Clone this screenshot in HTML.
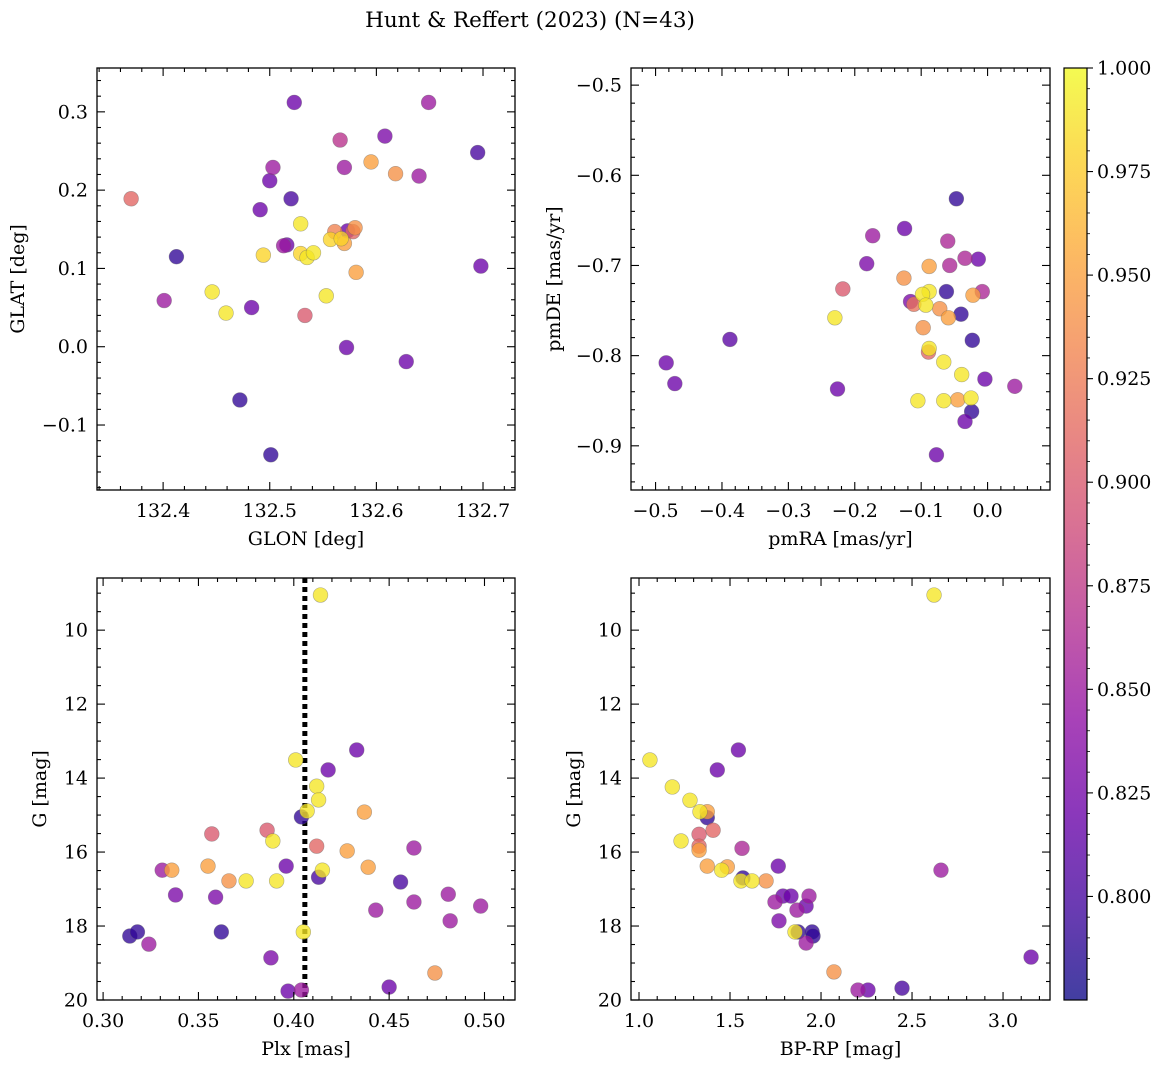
<!DOCTYPE html>
<html><head><meta charset="utf-8"><style>
html,body{margin:0;padding:0;background:#fff;}
svg{display:block;font-family:"DejaVu Serif","Liberation Serif",serif;}
</style></head><body>
<svg id="fig" width="1161" height="1067" viewBox="0 0 1161 1067" xmlns="http://www.w3.org/2000/svg">
<defs><linearGradient id="cbg" x1="0" y1="1" x2="0" y2="0">
<stop offset="0" stop-color="#0d0887"/><stop offset="0.1" stop-color="#41049d"/><stop offset="0.2" stop-color="#6a00a8"/><stop offset="0.3" stop-color="#8f0da4"/><stop offset="0.4" stop-color="#b12a90"/><stop offset="0.5" stop-color="#cc4778"/><stop offset="0.6" stop-color="#e16462"/><stop offset="0.7" stop-color="#f2844b"/><stop offset="0.8" stop-color="#fca636"/><stop offset="0.9" stop-color="#fcce25"/><stop offset="1" stop-color="#f0f921"/></linearGradient></defs>
<text x="530" y="27" font-size="21.5" text-anchor="middle">Hunt &amp; Reffert (2023) (N=43)</text>
</svg>
<script>
// Panel 1: GLON / GLAT
const glon=[132.370,132.4125,132.401,132.446,132.459,132.472,132.483,132.491,132.494,132.500,132.503,132.501,132.513,132.516,132.520,132.523,132.529,132.529,132.535,132.533,132.541,132.553,132.557,132.561,132.566,132.567,132.570,132.570,132.573,132.572,132.578,132.580,132.581,132.595,132.608,132.618,132.628,132.640,132.649,132.695,132.698];
const glat=[0.189,0.115,0.059,0.070,0.043,-0.068,0.050,0.175,0.117,0.212,0.229,-0.138,0.129,0.130,0.189,0.312,0.157,0.119,0.114,0.040,0.120,0.065,0.137,0.147,0.264,0.138,0.132,0.229,0.148,-0.001,0.147,0.152,0.095,0.236,0.269,0.221,-0.019,0.218,0.312,0.248,0.103];
const prob1=[0.91,0.79,0.85,0.99,0.99,0.79,0.82,0.82,0.98,0.82,0.85,0.79,0.85,0.82,0.80,0.82,0.99,0.98,0.99,0.90,0.99,0.99,0.98,0.93,0.87,0.98,0.95,0.85,0.82,0.82,0.91,0.94,0.95,0.95,0.83,0.94,0.82,0.85,0.85,0.80,0.82];
// Panel 2: pmRA / pmDE
const pmra=[-0.047,-0.125,-0.060,-0.034,-0.014,-0.057,-0.088,-0.126,-0.062,-0.088,-0.098,-0.008,-0.022,-0.116,-0.111,-0.093,-0.072,-0.040,-0.059,-0.097,-0.023,-0.089,-0.088,-0.066,-0.039,-0.004,0.041,-0.105,-0.066,-0.045,-0.025,-0.024,-0.034,-0.077,-0.484,-0.471,-0.388,-0.230,-0.226,-0.218,-0.182,-0.173];
const pmde=[-0.626,-0.659,-0.673,-0.692,-0.693,-0.700,-0.701,-0.714,-0.729,-0.729,-0.732,-0.729,-0.733,-0.740,-0.743,-0.744,-0.748,-0.754,-0.758,-0.769,-0.783,-0.796,-0.792,-0.807,-0.821,-0.826,-0.834,-0.850,-0.850,-0.849,-0.847,-0.862,-0.873,-0.910,-0.808,-0.831,-0.782,-0.758,-0.837,-0.726,-0.698,-0.667];
const prob2=[0.79,0.82,0.86,0.86,0.82,0.86,0.95,0.94,0.79,0.99,0.99,0.86,0.95,0.83,0.92,0.99,0.94,0.79,0.95,0.94,0.79,0.91,0.99,0.99,0.99,0.82,0.85,0.99,0.99,0.95,0.99,0.79,0.82,0.82,0.82,0.82,0.81,0.99,0.82,0.90,0.83,0.85];
// Panel 3: Plx / G
const plx=[0.314,0.318,0.324,0.331,0.336,0.338,0.355,0.357,0.359,0.362,0.366,0.375,0.386,0.388,0.389,0.391,0.396,0.397,0.401,0.404,0.404,0.405,0.407,0.412,0.413,0.412,0.413,0.414,0.415,0.418,0.428,0.433,0.437,0.439,0.443,0.450,0.456,0.463,0.463,0.474,0.481,0.482,0.498];
const gmag3=[18.27,18.16,18.49,16.49,16.49,17.16,16.38,15.51,17.22,18.16,16.78,16.78,15.41,18.86,15.70,16.78,16.38,19.76,13.51,19.73,15.05,18.16,14.89,14.22,14.59,15.84,16.68,9.05,16.49,13.78,15.97,13.24,14.92,16.41,17.57,19.65,16.81,15.89,17.35,19.27,17.14,17.86,17.46];
const prob3=[0.79,0.79,0.85,0.85,0.95,0.83,0.95,0.90,0.83,0.79,0.94,0.99,0.90,0.83,0.99,0.99,0.82,0.82,0.99,0.85,0.79,0.99,0.99,0.99,0.99,0.91,0.80,0.99,0.99,0.82,0.95,0.82,0.95,0.95,0.85,0.82,0.80,0.85,0.85,0.94,0.85,0.85,0.85];
const plxLine=[0.4058];
// Panel 4: BP-RP / G
const bprp=[1.060,1.546,1.430,1.183,1.280,1.335,1.375,1.375,1.407,1.330,1.231,1.330,1.330,1.566,1.765,1.375,1.485,1.454,1.571,1.560,1.621,1.698,1.747,1.791,1.835,1.934,1.769,1.868,1.918,1.857,1.874,1.951,1.956,1.918,2.071,2.203,2.258,2.445,2.621,2.659,3.154];
const gmag4=[13.51,13.24,13.78,14.24,14.60,14.91,14.91,15.07,15.41,15.52,15.70,15.84,15.95,15.90,16.38,16.38,16.40,16.49,16.70,16.78,16.78,16.78,17.35,17.19,17.19,17.19,17.86,17.57,17.46,18.16,18.16,18.16,18.27,18.46,19.24,19.73,19.73,19.68,9.05,16.49,18.84];
const prob4=[0.99,0.82,0.82,0.99,0.99,0.99,0.95,0.79,0.91,0.90,0.99,0.91,0.95,0.86,0.82,0.95,0.95,0.99,0.79,0.99,0.99,0.94,0.85,0.82,0.82,0.85,0.83,0.85,0.82,0.99,0.79,0.79,0.79,0.85,0.94,0.85,0.82,0.80,0.99,0.85,0.82];
// Colorbar ticks
const cbTicks=[0.800,0.825,0.850,0.875,0.900,0.925,0.950,0.975,1.000];

const NS="http://www.w3.org/2000/svg";
const svg=document.getElementById('fig');
const VMIN=0.775,VMAX=1.0;
const FS=19;
const stops=["#0d0887","#41049d","#6a00a8","#8f0da4","#b12a90","#cc4778","#e16462","#f2844b","#fca636","#fcce25","#f0f921"].map(h=>[parseInt(h.substr(1,2),16),parseInt(h.substr(3,2),16),parseInt(h.substr(5,2),16)]);
function cmap(v){let t=Math.max(0,Math.min(1,(v-VMIN)/(VMAX-VMIN)))*10;let i=Math.min(9,Math.floor(t));let f=t-i;const a=stops[i],b=stops[i+1];return `rgb(${a.map((c,k)=>Math.round(c+(b[k]-c)*f)).join(',')})`;}
function el(tag,attrs,parent){const e=document.createElementNS(NS,tag);for(const k in attrs)e.setAttribute(k,attrs[k]);(parent||svg).appendChild(e);return e;}
function fmt(v,d){let s=v.toFixed(d);if(s.startsWith('-')&&parseFloat(s)!==0)s='\u2212'+s.slice(1);else if(s.startsWith('-'))s=s.slice(1);return s;}

function panel(c){
  const g=el('g',{});
  
  
  const sx=v=>c.L+(v-c.x0)/(c.x1-c.x0)*(c.R-c.L);
  const sy=v=>c.B-(v-c.y0)/(c.y1-c.y0)*(c.B-c.T);
  if(c.vline){const ln=el('line',{x1:sx(c.vline),x2:sx(c.vline),y1:c.T,y2:c.B,stroke:'#000','stroke-width':5,'stroke-dasharray':'5,4'},g);
    
    }
  const pts=c.xs.map((x,i)=>({x,y:c.ys[i],p:c.ps[i]})).sort((a,b)=>a.p-b.p);
  pts.forEach(p=>{const cc=el('circle',{cx:sx(p.x),cy:sy(p.y),r:7.4,fill:cmap(p.p),'fill-opacity':0.78,stroke:'#666','stroke-opacity':0.5,'stroke-width':0.6},g);
    
    });
  const fr=el('rect',{x:c.L,y:c.T,width:c.R-c.L,height:c.B-c.T,fill:'none',stroke:'#000','stroke-width':1.3},g);
  
  
  const tk=(x1,y1,x2,y2)=>el('line',{x1,y1,x2,y2,stroke:'#000','stroke-width':1.1},g);
  const eps=1e-9;
  for(let v=Math.ceil(c.x0/c.xmin-eps)*c.xmin;v<=c.x1+eps;v+=c.xmin){const X=sx(v);const maj=Math.abs(v/c.xmaj-Math.round(v/c.xmaj))<1e-6;const len=maj?8:4;
    tk(X,c.B,X,c.B-len);tk(X,c.T,X,c.T+len);
    if(maj){const t=el('text',{x:X,y:c.B+27,'font-size':FS,'text-anchor':'middle'},g);t.textContent=fmt(v,c.xd);
      
      }}
  const ylo=Math.min(c.y0,c.y1),yhi=Math.max(c.y0,c.y1);
  for(let v=Math.ceil(ylo/c.ymin-eps)*c.ymin;v<=yhi+eps;v+=c.ymin){const Y=sy(v);const maj=Math.abs(v/c.ymaj-Math.round(v/c.ymaj))<1e-6;const len=maj?8:4;
    tk(c.L,Y,c.L+len,Y);tk(c.R,Y,c.R-len,Y);
    if(maj){const t=el('text',{x:c.L-9,y:Y+6.5,'font-size':FS,'text-anchor':'end'},g);t.textContent=fmt(v,c.yd);
      
      }}
  const xl=el('text',{x:(c.L+c.R)/2,y:c.B+55,'font-size':FS,'text-anchor':'middle'},g);xl.textContent=c.xlabel;
  
  
  const yx=c.ylx,yy=(c.T+c.B)/2;
  const yl=el('text',{x:yx,y:yy,'font-size':FS,'text-anchor':'middle',transform:`rotate(-90 ${yx} ${yy})`},g);yl.textContent=c.ylabel;
  
  
}
panel({name:'glon-glat-panel',L:97,R:515,T:68,B:490,x0:132.338,x1:132.730,y0:-0.183,y1:0.356,xmaj:0.1,xmin:0.02,ymaj:0.1,ymin:0.02,xd:1,yd:1,xs:glon,ys:glat,ps:prob1,xlabel:'GLON [deg]',ylabel:'GLAT [deg]',ylx:24});
panel({name:'proper-motion-panel',L:631,R:1050,T:68,B:490,x0:-0.537,x1:0.094,y0:-0.949,y1:-0.481,xmaj:0.1,xmin:0.02,ymaj:0.1,ymin:0.02,xd:1,yd:1,xs:pmra,ys:pmde,ps:prob2,xlabel:'pmRA [mas/yr]',ylabel:'pmDE [mas/yr]',ylx:560});
panel({name:'parallax-mag-panel',L:97,R:515,T:578,B:1000,x0:0.2968,x1:0.516,y0:20.0,y1:8.59,xmaj:0.05,xmin:0.01,ymaj:2,ymin:0.5,xd:2,yd:0,xs:plx,ys:gmag3,ps:prob3,xlabel:'Plx [mas]',ylabel:'G [mag]',ylx:46,vline:plxLine[0]});
panel({name:'cmd-panel',L:631,R:1050,T:578,B:1000,x0:0.956,x1:3.258,y0:20.0,y1:8.59,xmaj:0.5,xmin:0.1,ymaj:2,ymin:0.5,xd:1,yd:0,xs:bprp,ys:gmag4,ps:prob4,xlabel:'BP-RP [mag]',ylabel:'G [mag]',ylx:580});
const cb=el('g',{});


const CT=68,CB=1000,CL=1064,CR=1087;
el('rect',{x:CL,y:CT,width:CR-CL,height:CB-CT,fill:'url(#cbg)','fill-opacity':0.78},cb);
el('rect',{x:CL,y:CT,width:CR-CL,height:CB-CT,fill:'none',stroke:'#000','stroke-width':1.2},cb);
const cy=v=>CB-(v-VMIN)/(VMAX-VMIN)*(CB-CT);
cbTicks.forEach(v=>{const Y=cy(v);el('line',{x1:CR,x2:CR+6,y1:Y,y2:Y,stroke:'#000','stroke-width':1.1},cb);
  const t=el('text',{x:CR+10,y:Y+6.5,'font-size':FS},cb);t.textContent=v.toFixed(3);
  
  });
for(let v=0.780;v<1.0;v+=0.005){const Y=cy(v);el('line',{x1:CR,x2:CR+3,y1:Y,y2:Y,stroke:'#000','stroke-width':0.8},cb);}
</script>
</body></html>
